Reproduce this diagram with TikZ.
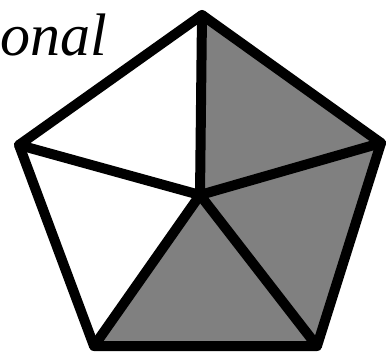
\documentclass[tikz,border=0pt]{standalone}
\usepackage{fontspec}
\setmainfont{Liberation Serif}
\usetikzlibrary{positioning}

\begin{document}
\begin{tikzpicture}[
    x=1pt, y=-1pt,
    edge/.style={line width=10pt, line join=round, line cap=round},
    face/.style={fill=black!50},
    word/.style={font=\fontsize{60}{62}\selectfont\itshape, inner sep=0pt}
]
  \useasboundingbox (0,0) rectangle (391,356);

  % Corners
  \coordinate (top) at (202,15);
  \coordinate (right) at (381,143);
  \coordinate (bright) at (317,346);
  \coordinate (bleft) at (94,346);
  \coordinate (left) at (19,145);
  \coordinate (mid) at (200,195);

  % Text
  \node[word, anchor=base west] (title) at (0,55) {onal};

  % Shaded parts
  \fill[face] (top) -- (right) -- (bright) -- (bleft) -- (mid) -- cycle;

  % Edges
  \draw[edge] (top) -- (right) -- (bright) -- (bleft) -- (left) -- cycle;
  \draw[edge] (mid) -- (top);
  \draw[edge] (mid) -- (right);
  \draw[edge] (mid) -- (bright);
  \draw[edge] (mid) -- (bleft);
  \draw[edge] (mid) -- (left);
\end{tikzpicture}
\end{document}
